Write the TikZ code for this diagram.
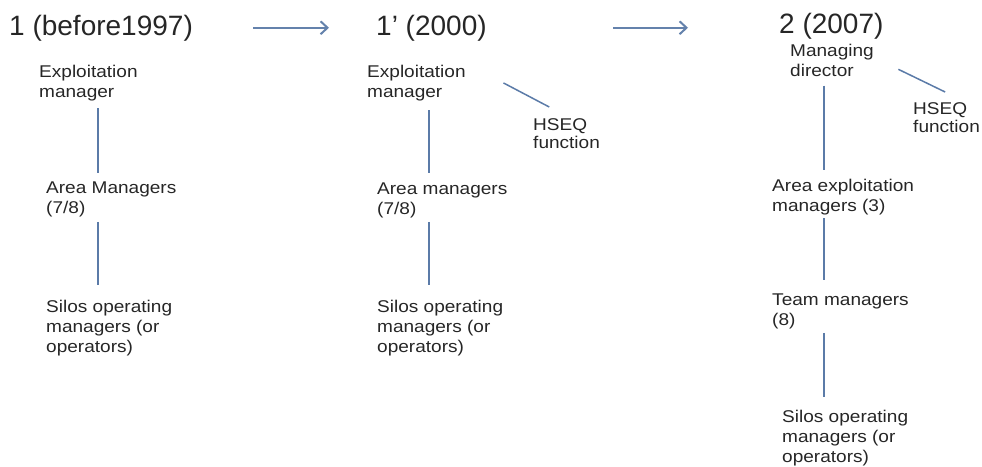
\documentclass[tikz,border=0pt]{standalone}
\usepackage{fontspec}
\setmainfont{Liberation Sans}
\newfontfamily\lblfont[FakeStretch=1.12]{Liberation Sans}
\usetikzlibrary{arrows.meta}
\definecolor{txt}{HTML}{262626}
\definecolor{ln}{HTML}{5B7BA8}
\definecolor{arr}{HTML}{6482AC}
\begin{document}
\begin{tikzpicture}[x=1pt,y=-1pt,
  title/.style={anchor=base west,inner sep=0pt,font=\fontsize{28}{33}\selectfont,text=txt},
  lab/.style={anchor=north west,inner sep=0pt,align=left,font=\lblfont\fontsize{17}{20}\selectfont,text=txt},
  hseq/.style={lab,font=\lblfont\fontsize{17}{18}\selectfont},
  conn/.style={draw=ln,line width=1.5pt},
  flow/.style={draw=arr,line width=2pt,-{Straight Barb[length=7pt,width=13pt]}}]
\useasboundingbox (0,0) rectangle (982,466);

% titles
\node[title] (t1) at (9,35) {1 (before1997)};
\node[title] (t2) at (376,35) {1’ (2000)};
\node[title] (t3) at (779,33) {2 (2007)};
\draw[flow] ([xshift=60.4pt]t1.east) -- ([xshift=-47pt]t1.east -| t2.west);
\draw[flow] ([xshift=126.5pt]t2.east) -- ([xshift=-91pt]t2.east -| t3.west);

% column coordinates
\coordinate (c1) at (98,0);
\coordinate (c2) at (429,0);
\coordinate (c3) at (824,0);

% column 1
\node[lab] (e1) at (39,64.8) {Exploitation\\manager};
\node[lab] (a1) at (46,181.8) {Area Managers\\(7/8)};
\node[lab] (s1) at (46,299.7) {Silos operating\\managers (or\\operators)};
\draw[conn] ([yshift=-7.4pt]e1.south -| c1) -- ([yshift=8.8pt]a1.north -| c1);
\draw[conn] ([yshift=-4.4pt]a1.south -| c1) -- ([yshift=14.7pt]s1.north -| c1);

% column 2
\node[lab] (e2) at (367,64.8) {Exploitation\\manager};
\node[hseq] (h2) at (533,118.6) {HSEQ\\function};
\node[lab] (a2) at (377,182.8) {Area managers\\(7/8)};
\node[lab] (s2) at (377,299.7) {Silos operating\\managers (or\\operators)};
\draw[conn] ([yshift=-9.4pt]e2.south -| c2) -- ([yshift=9.8pt]a2.north -| c2);
\draw[conn] ([yshift=-3.4pt]a2.south -| c2) -- ([yshift=14.7pt]s2.north -| c2);
\draw[conn] ([xshift=37.6pt]e2.east) -- ([xshift=-17.3pt,yshift=11.6pt]h2.north);

% column 3
\node[lab] (m3) at (790,43.8) {Managing\\director};
\node[hseq] (h3) at (913,102.5) {HSEQ\\function};
\node[lab] (x3) at (772,178.8) {Area exploitation\\managers (3)};
\node[lab] (tm3) at (772,293.8) {Team managers\\(8)};
\node[lab] (s3) at (782,409.7) {Silos operating\\managers (or\\operators)};
\draw[conn] ([yshift=-9pt]m3.south -| c3) -- ([yshift=8.8pt]x3.north -| c3);
\draw[conn] ([yshift=-3.4pt]x3.south -| c3) -- ([yshift=13.8pt]tm3.north -| c3);
\draw[conn] ([yshift=-3.4pt]tm3.south -| c3) -- ([yshift=12.7pt]s3.north -| c3);
\draw[conn] ([xshift=24.4pt,yshift=-9.1pt]m3.east) -- ([xshift=-1.4pt,yshift=10.5pt]h3.north);
\end{tikzpicture}
\end{document}
